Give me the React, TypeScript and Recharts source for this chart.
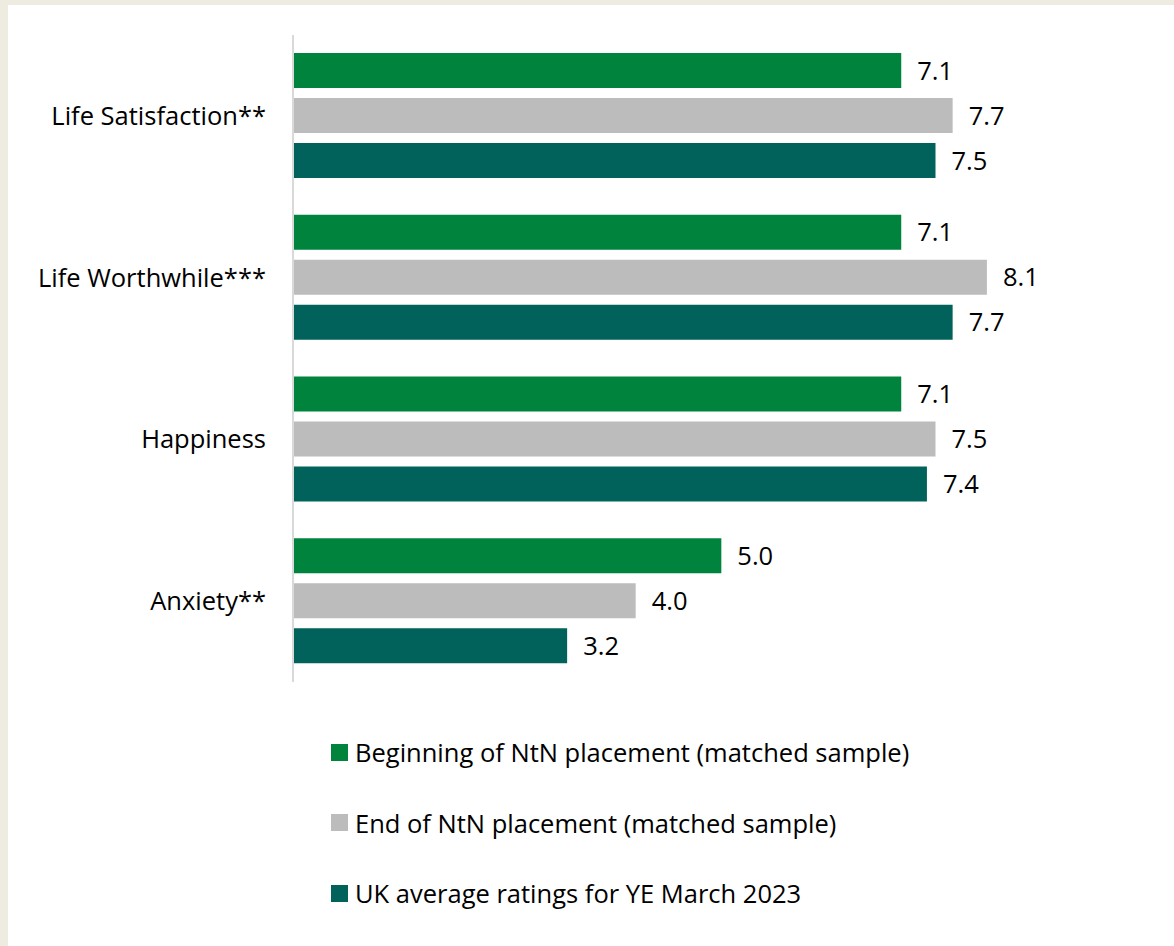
import React from "react";
import { BarChart, Bar, XAxis, YAxis, LabelList } from "recharts";

const categories = ["Life Satisfaction**", "Life Worthwhile***", "Happiness", "Anxiety**"];
const beginning = [7.1, 7.1, 7.1, 5.0];
const endPlacement = [7.7, 8.1, 7.5, 4.0];
const ukAverage = [7.5, 7.7, 7.4, 3.2];

const seriesNames = [
  "Beginning of NtN placement (matched sample)",
  "End of NtN placement (matched sample)",
  "UK average ratings for YE March 2023",
];
const colors = ["#00843d", "#bcbcbc", "#00625a"];

const data = categories.map((name, i) => ({
  name,
  beginning: beginning[i],
  end: endPlacement[i],
  uk: ukAverage[i],
}));

const FONT = "'Open Sans', Lato, sans-serif";
const fmt = (v: number) => v.toFixed(1);

export default function App() {
  const keys = ["beginning", "end", "uk"];
  return (
    <div style={{ position: "relative", width: 1174, height: 946, background: "#eeebe0", fontFamily: FONT }}>
      <style>{`body{margin:0}`}</style>
      <div style={{ position: "absolute", left: 8, top: 5, width: 1166, height: 941, background: "#fff" }}>
        <BarChart
          width={1166}
          height={700}
          data={data}
          layout="vertical"
          margin={{ top: 30, right: 110, bottom: 23, left: 0 }}
          barGap={10}
          barSize={35}
        >
          <XAxis type="number" domain={[0, 9]} hide />
          <YAxis
            type="category"
            dataKey="name"
            width={285}
            axisLine={{ stroke: "#d9d9d9", strokeWidth: 2 }}
            tickLine={false}
            tickSize={0}
            tickMargin={27}
            tick={{ fill: "#000", fontSize: 25.5, fontFamily: FONT }}
          />
          {keys.map((k, i) => (
            <Bar key={k} dataKey={k} name={seriesNames[i]} fill={colors[i]} isAnimationActive={false}>
              <LabelList
                dataKey={k}
                position="right"
                offset={16}
                formatter={fmt}
                fill="#000"
                fontSize={25.5}
                fontFamily={FONT}
              />
            </Bar>
          ))}
        </BarChart>
        <div style={{ position: "absolute", left: 323, top: 712 }}>
          {seriesNames.map((n, i) => (
            <div key={n} style={{ display: "flex", alignItems: "center", height: 70.5 }}>
              <span style={{ display: "inline-block", width: 17, height: 17, background: colors[i], marginRight: 7 }} />
              <span style={{ fontSize: 25.5, color: "#000" }}>{n}</span>
            </div>
          ))}
        </div>
      </div>
    </div>
  );
}
